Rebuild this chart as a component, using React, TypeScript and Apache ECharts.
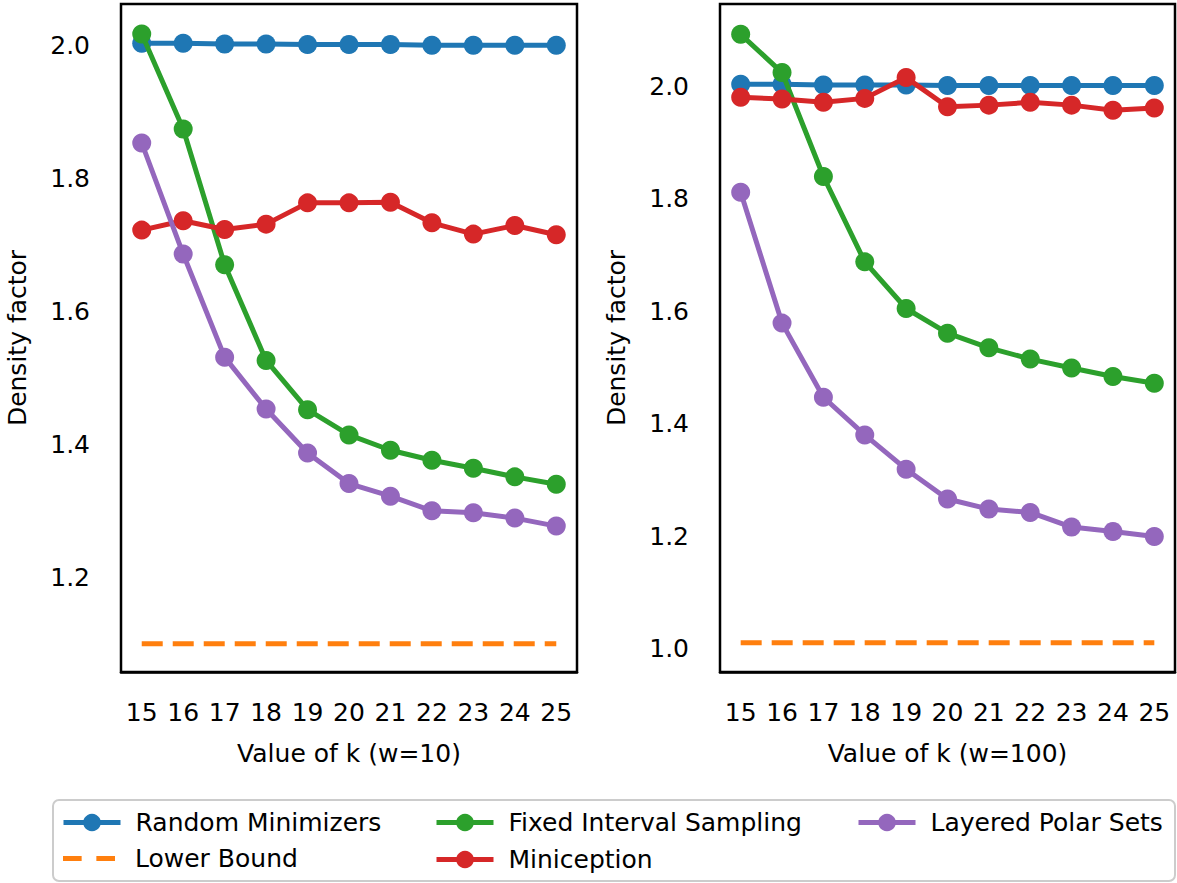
import React, { useEffect, useRef } from 'react';
import * as echarts from 'echarts';

const kValues = ['15', '16', '17', '18', '19', '20', '21', '22', '23', '24', '25'];
const yTicksW10 = [1.2, 1.4, 1.6, 1.8, 2.0];
const yTicksW100 = [1.0, 1.2, 1.4, 1.6, 1.8, 2.0];

// w = 10
const randomW10 = [2.003, 2.003, 2.002, 2.002, 2.001, 2.001, 2.001, 2.0, 2.0, 2.0, 2.0];
const lowerW10 = [1.1, 1.1, 1.1, 1.1, 1.1, 1.1, 1.1, 1.1, 1.1, 1.1, 1.1];
const fixedW10 = [2.017, 1.874, 1.67, 1.526, 1.452, 1.414, 1.391, 1.376, 1.364, 1.351, 1.34];
const minicW10 = [1.722, 1.736, 1.723, 1.731, 1.763, 1.763, 1.764, 1.733, 1.716, 1.729, 1.715];
const polarW10 = [1.853, 1.686, 1.531, 1.453, 1.387, 1.341, 1.322, 1.3, 1.297, 1.289, 1.277];

// w = 100
const randomW100 = [2.004, 2.004, 2.003, 2.003, 2.003, 2.002, 2.002, 2.002, 2.002, 2.002, 2.002];
const lowerW100 = [1.01, 1.01, 1.01, 1.01, 1.01, 1.01, 1.01, 1.01, 1.01, 1.01, 1.01];
const fixedW100 = [2.093, 2.025, 1.84, 1.688, 1.605, 1.561, 1.535, 1.515, 1.499, 1.484, 1.472];
const minicW100 = [1.981, 1.978, 1.972, 1.979, 2.016, 1.964, 1.967, 1.972, 1.967, 1.958, 1.962];
const polarW100 = [1.812, 1.579, 1.447, 1.38, 1.319, 1.266, 1.248, 1.242, 1.216, 1.208, 1.199];

const seriesNames = ['Random Minimizers', 'Lower Bound', 'Fixed Interval Sampling', 'Miniception', 'Layered Polar Sets'];
const colors = ['#1f77b4', '#ff7f0e', '#2ca02c', '#d62728', '#9467bd'];

const FONT = 'DejaVu Sans';
const FS = 25;

export default function App() {
  const ref = useRef<HTMLDivElement>(null);
  useEffect(() => {
    if (!ref.current) return;
    const chart = echarts.init(ref.current, null, { renderer: 'svg' });
    const panels = [
      { data: [randomW10, lowerW10, fixedW10, minicW10, polarW10], ticks: yTicksW10, min: 1.0576, max: 2.062, xname: 'Value of k (w=10)' },
      { data: [randomW100, lowerW100, fixedW100, minicW100, polarW100], ticks: yTicksW100, min: 0.958, max: 2.147, xname: 'Value of k (w=100)' },
    ];
    const series: any[] = [];
    panels.forEach((p, pi) => {
      p.data.forEach((d, si) => {
        const dashed = si === 1;
        series.push({
          type: 'line',
          name: seriesNames[si],
          xAxisIndex: pi,
          yAxisIndex: pi,
          data: d,
          symbol: dashed ? 'none' : 'circle',
          symbolSize: 19,
          showSymbol: !dashed,
          lineStyle: { color: colors[si], width: 5, type: dashed ? [21, 10] : 'solid' },
          itemStyle: { color: colors[si] },
          z: 2 + si,
          emphasis: { disabled: true },
        });
      });
    });
    const axisCommon = {
      axisLine: { lineStyle: { color: '#000', width: 2.5 } },
      axisTick: { length: 14, lineStyle: { color: '#000', width: 2.5 } },
      splitLine: { show: false },
      nameTextStyle: { fontFamily: FONT, fontSize: FS, color: '#000' },
    };
    const legendTextStyle = { fontFamily: FONT, fontSize: FS, color: '#000' };
    const legends: any[] = [
      { data: [seriesNames[0]], left: 61, top: 810 },
      { data: [{ name: seriesNames[1], icon: 'path://M0,0H19V5H0Z M34,0H53V5H34Z' }], left: 63, top: 846, itemWidth: 52, itemHeight: 5, textPad: 15 },
      { data: [seriesNames[2]], left: 434, top: 810 },
      { data: [seriesNames[3]], left: 434, top: 847 },
      { data: [seriesNames[4]], left: 856, top: 810 },
    ].map((l: any) => ({
      data: l.data,
      left: l.left,
      top: l.top,
      padding: 0,
      itemWidth: l.itemWidth ?? 57,
      itemHeight: l.itemHeight ?? 22,
      selectedMode: false,
      lineStyle: { width: 5 },
      textStyle: { ...legendTextStyle, padding: [0, 0, 0, l.textPad ?? 10] },
    }));
    chart.setOption({
      animation: false,
      textStyle: { fontFamily: FONT },
      grid: [
        { left: 121, right: 600, top: 4, bottom: 211, show: true, borderColor: '#000', borderWidth: 2.5 },
        { left: 720, right: 2, top: 4, bottom: 211, show: true, borderColor: '#000', borderWidth: 2.5 },
      ],
      xAxis: panels.map((p, pi) => ({
        ...axisCommon,
        type: 'category',
        gridIndex: pi,
        data: kValues,
        boundaryGap: true,
        axisTick: { ...axisCommon.axisTick, alignWithLabel: true },
        axisLabel: { interval: 0, fontFamily: FONT, fontSize: FS, color: '#000', margin: 28 },
        name: p.xname,
        nameLocation: 'middle',
        nameGap: 69,
      })),
      yAxis: panels.map((p, pi) => ({
        ...axisCommon,
        type: 'value',
        gridIndex: pi,
        min: p.min,
        max: p.max,
        axisTick: { ...axisCommon.axisTick, customValues: p.ticks },
        axisLabel: {
          customValues: p.ticks,
          formatter: (v: number) => v.toFixed(1),
          fontFamily: FONT,
          fontSize: FS,
          color: '#000',
          margin: 31,
        },
        name: 'Density factor',
        nameLocation: 'middle',
        nameGap: 91,
      })),
      legend: legends,
      graphic: [
        {
          type: 'rect',
          shape: { x: 53, y: 800, width: 1122, height: 81, r: 6 },
          style: { fill: '#fff', stroke: '#cccccc', lineWidth: 2 },
          z: -1,
        },
      ],
      series,
    });
    return () => chart.dispose();
  }, []);
  return <div ref={ref} style={{ width: 1177, height: 883, position: 'absolute', left: 0, top: 0 }} />;
}
